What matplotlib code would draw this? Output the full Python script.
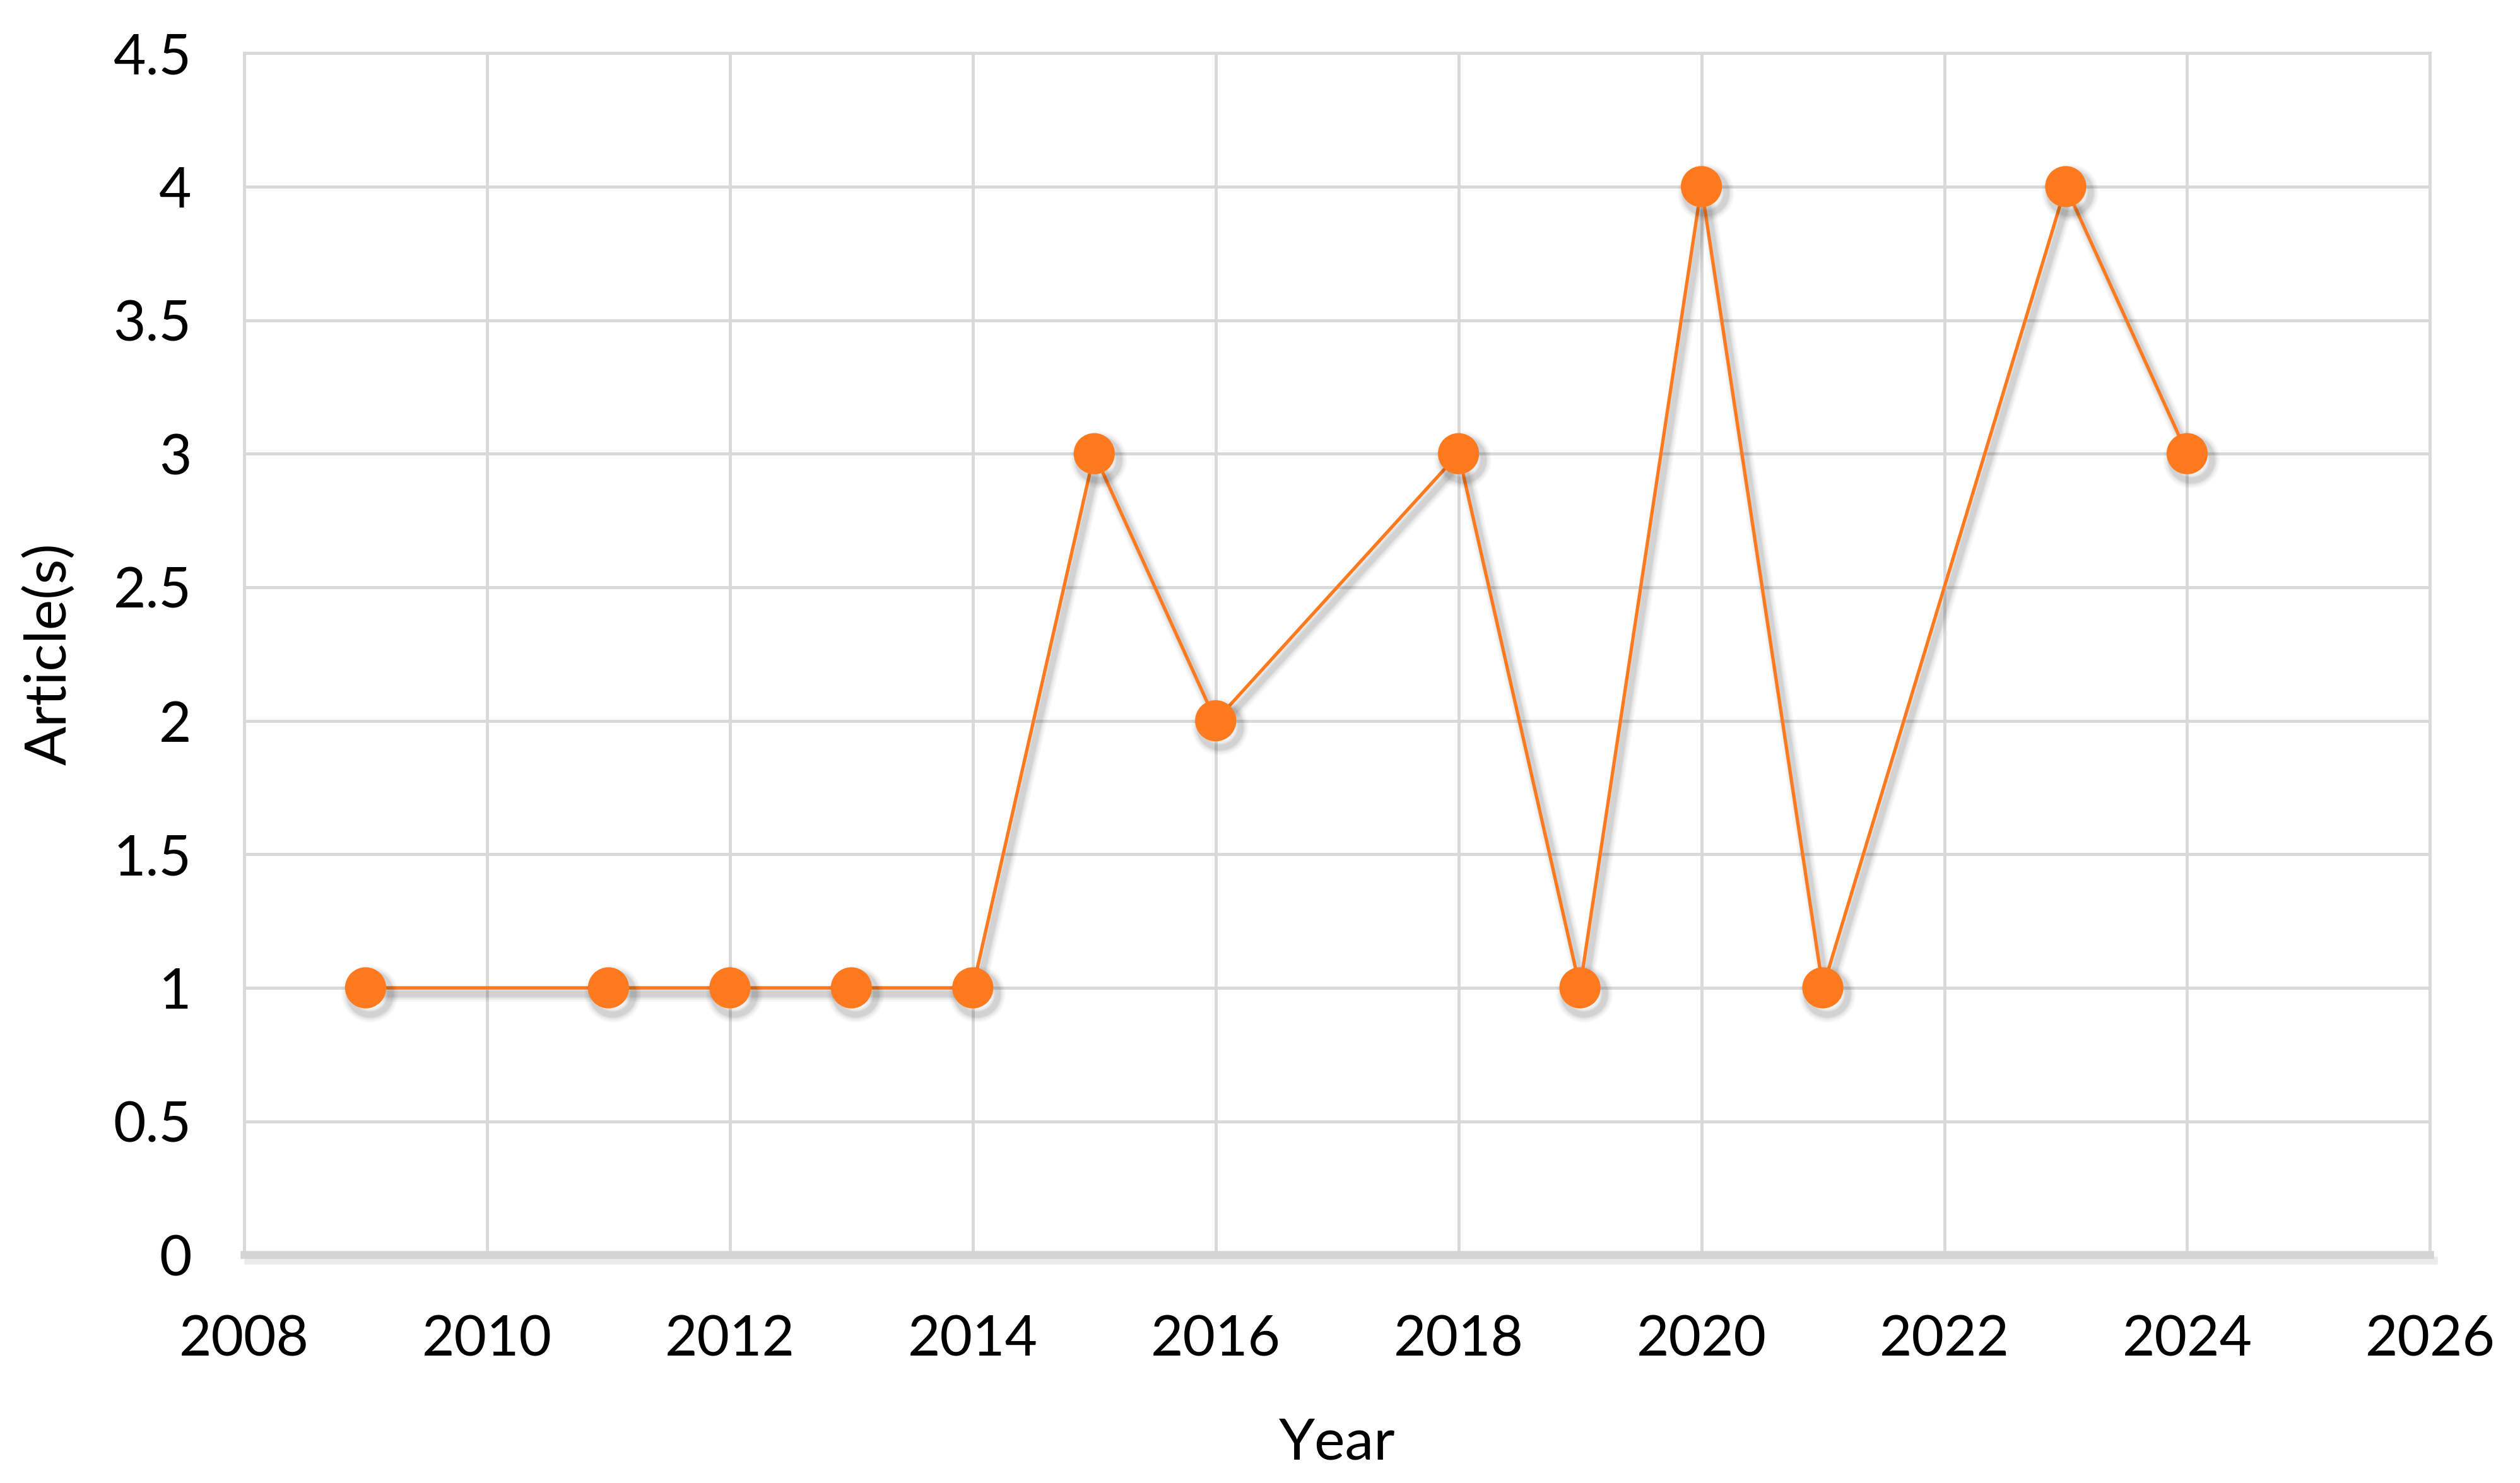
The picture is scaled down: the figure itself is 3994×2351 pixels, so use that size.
import matplotlib
matplotlib.use("Agg")
import matplotlib.pyplot as plt
import matplotlib.patheffects as pe

years = [2009, 2011, 2012, 2013, 2014, 2015, 2016, 2018, 2019, 2020, 2021, 2023, 2024]
articles = [1, 1, 1, 1, 1, 3, 2, 3, 1, 4, 1, 4, 3]
x_ticks = [2008, 2010, 2012, 2014, 2016, 2018, 2020, 2022, 2024, 2026]
y_ticks = [0, 0.5, 1, 1.5, 2, 2.5, 3, 3.5, 4, 4.5]
y_tick_labels = ["0", "0.5", "1", "1.5", "2", "2.5", "3", "3.5", "4", "4.5"]

plt.rcParams['font.family'] = ['Lato', 'DejaVu Sans']

fig = plt.figure(figsize=(39.94, 23.51), dpi=100)
ax = fig.add_axes([0.0969, 0.1538, 0.8674, 0.8104])

orange = '#FF7A1F'
grid_c = '#D9D9D9'

# soft, blurred-looking shadow built from several faint layers
shadow_layers = []
for lw_extra, a in [(14, 0.03), (10, 0.04), (6, 0.05), (3, 0.06)]:
    shadow_layers.append(pe.SimpleLineShadow(offset=(5, -7), shadow_color='#000000',
                                             alpha=a, linewidth=3.8 + lw_extra))
ax.plot(years, articles, color=orange, linewidth=3.8, marker='o', markersize=47,
        markeredgewidth=0, zorder=5, clip_on=False,
        path_effects=shadow_layers + [pe.Normal()])

ax.set_xlim(2008, 2026)
ax.set_ylim(0, 4.5)
ax.set_xticks(x_ticks)
ax.set_xticklabels([str(t) for t in x_ticks])
ax.set_yticks(y_ticks)
ax.set_yticklabels(y_tick_labels)

ax.grid(True, color=grid_c, linewidth=3.5, zorder=0)
ax.set_axisbelow(True)

for s in ['top', 'right', 'left']:
    ax.spines[s].set_color(grid_c)
    ax.spines[s].set_linewidth(3.5)
ax.spines['bottom'].set_color('#D4D4D4')
ax.spines['bottom'].set_linewidth(9)
ax.spines['bottom'].set_path_effects([pe.SimpleLineShadow(offset=(4, -6), shadow_color='#000000', alpha=0.08),
                                      pe.Normal()])

ax.tick_params(axis='both', length=0, labelsize=64, colors='black')
ax.tick_params(axis='y', pad=60)
ax.tick_params(axis='x', pad=68)

ax.set_xlabel('Year', fontsize=66, labelpad=58)
ax.set_ylabel('Article(s)', fontsize=66, labelpad=42)

fig.savefig('out.png', dpi=100, facecolor='white')
